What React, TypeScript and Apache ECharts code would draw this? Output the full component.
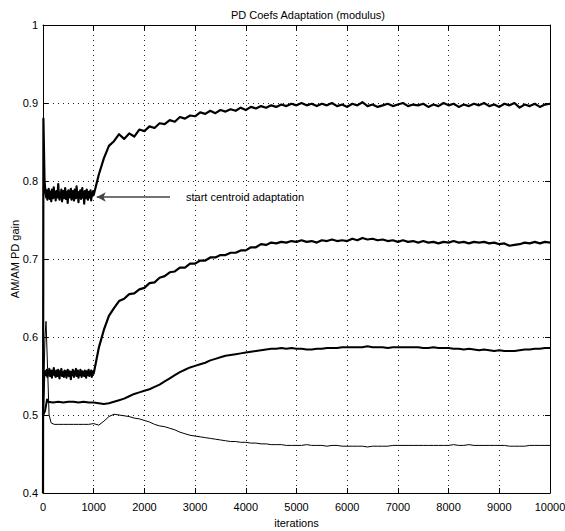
import React, { useEffect, useRef } from "react";
import * as echarts from "echarts";

// ---- axis settings ----
const X_MIN = 0;
const X_MAX = 10000;
const X_STEP = 1000;
const Y_MIN = 0.4;
const Y_MAX = 1;
const Y_STEP = 0.1;

const titleText = "PD Coefs Adaptation (modulus)";
const xName = "iterations";
const yName = "AM/AM PD gain";
const noteText = "start centroid adaptation";
const noteArrow = [2505, 1060, 0.7795]; // tail iter, tip iter, gain
const noteTextAt = [2820, 0.7795];

// ---- curve A (top) ----
const aStart = [[0, 0.4], [8, 0.88], [30, 0.8]];
// iterations 50..1000, step 12.5
const aEarly = [
  0.785, 0.779, 0.788, 0.776, 0.783, 0.79, 0.781, 0.777, 0.786, 0.774,
  0.789, 0.782, 0.778, 0.792, 0.78, 0.784, 0.775, 0.787, 0.781, 0.779,
  0.796, 0.783, 0.776, 0.785, 0.78, 0.789, 0.774, 0.782, 0.787, 0.778,
  0.784, 0.791, 0.777, 0.783, 0.786, 0.772, 0.788, 0.781, 0.779, 0.785,
  0.79, 0.776, 0.783, 0.787, 0.78, 0.775, 0.789, 0.782, 0.778, 0.793,
  0.781, 0.784, 0.773, 0.786, 0.78, 0.788, 0.777, 0.783, 0.791, 0.779,
  0.785, 0.771, 0.787, 0.782, 0.778, 0.789, 0.78, 0.776, 0.786, 0.783,
  0.779, 0.788, 0.775, 0.784, 0.781, 0.787, 0.782,
];
// iterations 1100..10000, step 100
const aLate = [
  0.808, 0.829, 0.845, 0.851, 0.86, 0.854, 0.861, 0.857, 0.866, 0.864,
  0.87, 0.868, 0.874, 0.873, 0.878, 0.876, 0.882, 0.88, 0.884, 0.883,
  0.888, 0.886, 0.89, 0.887, 0.891, 0.889, 0.892, 0.89, 0.894, 0.891,
  0.895, 0.893, 0.896, 0.894, 0.897, 0.895, 0.898, 0.896, 0.899, 0.897,
  0.9, 0.897, 0.899, 0.896, 0.899, 0.897, 0.9, 0.896, 0.898, 0.895,
  0.899, 0.897, 0.901, 0.896, 0.898, 0.895, 0.897, 0.899, 0.896, 0.898,
  0.9, 0.896, 0.898, 0.897, 0.899, 0.895, 0.898, 0.896, 0.9, 0.897,
  0.899, 0.895, 0.898, 0.896, 0.899, 0.897, 0.9, 0.896, 0.898, 0.895,
  0.899, 0.897, 0.9, 0.894, 0.898, 0.896, 0.899, 0.895, 0.898, 0.899,
];

// ---- curve B ----
const bStart = [[0, 0.5], [25, 0.556]];
// iterations 50..1000, step 12.5
const bEarly = [
  0.556, 0.551, 0.558, 0.549, 0.555, 0.553, 0.559, 0.55, 0.554, 0.557,
  0.548, 0.556, 0.552, 0.56, 0.551, 0.555, 0.549, 0.557, 0.553, 0.55,
  0.558, 0.554, 0.547, 0.556, 0.552, 0.559, 0.55, 0.555, 0.553, 0.549,
  0.557, 0.551, 0.556, 0.548, 0.554, 0.558, 0.552, 0.55, 0.556, 0.553,
  0.546, 0.555, 0.551, 0.558, 0.553, 0.549, 0.556, 0.552, 0.559, 0.55,
  0.554, 0.557, 0.548, 0.555, 0.551, 0.558, 0.553, 0.549, 0.556, 0.552,
  0.555, 0.55, 0.557, 0.553, 0.548, 0.556, 0.551, 0.554, 0.558, 0.55,
  0.555, 0.552, 0.557, 0.549, 0.554, 0.556, 0.553,
];
// iterations 1100..10000, step 100
const bLate = [
  0.586, 0.609, 0.627, 0.637, 0.646, 0.649, 0.655, 0.656, 0.661, 0.663,
  0.669, 0.67, 0.676, 0.678, 0.683, 0.684, 0.689, 0.689, 0.694, 0.694,
  0.698, 0.698, 0.702, 0.702, 0.705, 0.705, 0.708, 0.708, 0.711, 0.711,
  0.715, 0.715, 0.719, 0.718, 0.721, 0.72, 0.722, 0.721, 0.723, 0.722,
  0.724, 0.722, 0.723, 0.721, 0.724, 0.723, 0.725, 0.723, 0.724, 0.723,
  0.726, 0.724, 0.727, 0.725, 0.726, 0.724, 0.725, 0.723, 0.724, 0.722,
  0.724, 0.722, 0.723, 0.721, 0.723, 0.721, 0.722, 0.72, 0.722, 0.721,
  0.723, 0.721, 0.722, 0.72, 0.722, 0.721, 0.722, 0.72, 0.721, 0.719,
  0.72, 0.717, 0.718, 0.719, 0.721, 0.72, 0.722, 0.72, 0.722, 0.721,
];

// ---- curve C ----
const cStart = [[0, 0.5], [40, 0.505], [80, 0.52]];
// iterations 100..10000, step 100
const cLate = [
  0.517, 0.516, 0.517, 0.516, 0.517, 0.517, 0.516, 0.517, 0.516, 0.516,
  0.515, 0.514, 0.515, 0.517, 0.519, 0.521, 0.524, 0.527, 0.529, 0.531,
  0.533, 0.536, 0.539, 0.543, 0.547, 0.551, 0.555, 0.558, 0.561, 0.563,
  0.565, 0.567, 0.57, 0.572, 0.574, 0.576, 0.577, 0.578, 0.579, 0.58,
  0.581, 0.582, 0.583, 0.584, 0.585, 0.585, 0.586, 0.585, 0.586, 0.585,
  0.585, 0.584, 0.584, 0.585, 0.585, 0.586, 0.586, 0.586, 0.587, 0.587,
  0.587, 0.587, 0.587, 0.588, 0.587, 0.587, 0.587, 0.586, 0.587, 0.587,
  0.587, 0.587, 0.587, 0.587, 0.586, 0.586, 0.587, 0.586, 0.586, 0.586,
  0.585, 0.585, 0.584, 0.585, 0.584, 0.583, 0.584, 0.583, 0.582, 0.583,
  0.582, 0.582, 0.582, 0.583, 0.584, 0.584, 0.585, 0.585, 0.586, 0.586,
];

// ---- curve D (bottom, thin) ----
const dStart = [[0, 0.5], [40, 0.6], [60, 0.62], [90, 0.56], [120, 0.5], [160, 0.49], [220, 0.488]];
// iterations 300..10000, step 100
const dLate = [
  0.488, 0.488, 0.488, 0.488, 0.488, 0.488, 0.488,
  0.489, 0.487, 0.492, 0.498, 0.501, 0.5, 0.499, 0.498, 0.496, 0.495,
  0.493, 0.491, 0.488, 0.486, 0.485, 0.483, 0.481, 0.478, 0.476, 0.474,
  0.473, 0.472, 0.471, 0.47, 0.469, 0.468, 0.467, 0.466, 0.466, 0.465,
  0.465, 0.464, 0.464, 0.463, 0.463, 0.462, 0.462, 0.462, 0.461, 0.461,
  0.461,
  0.461, 0.462, 0.461, 0.461, 0.461, 0.46, 0.461, 0.461, 0.46, 0.46,
  0.46, 0.46, 0.46, 0.459, 0.46, 0.46, 0.46, 0.46, 0.461, 0.461,
  0.461, 0.461, 0.461, 0.461, 0.461, 0.461, 0.461, 0.461, 0.461, 0.461,
  0.462, 0.461, 0.461, 0.462, 0.461, 0.461, 0.461, 0.461, 0.461, 0.461,
  0.461, 0.46, 0.46, 0.46, 0.46, 0.461, 0.461, 0.461, 0.461, 0.461,
];

function build(
  start: number[][],
  early: number[],
  earlyFrom: number,
  earlyStep: number,
  late: number[],
  lateFrom: number,
  lateStep: number
) {
  const pts: number[][] = start.map((p) => [p[0], p[1]]);
  early.forEach((v, i) => pts.push([earlyFrom + i * earlyStep, v]));
  late.forEach((v, i) => pts.push([lateFrom + i * lateStep, v]));
  return pts;
}

const FONT = "Liberation Sans, Arial, Helvetica, sans-serif";

export default function App() {
  const ref = useRef<HTMLDivElement>(null);
  useEffect(() => {
    if (!ref.current) return;
    const chart = echarts.init(ref.current, undefined, { renderer: "svg" });

    const seriesA = build(aStart, aEarly, 50, 12.5, aLate, 1100, 100);
    const seriesB = build(bStart, bEarly, 50, 12.5, bLate, 1100, 100);
    const seriesC = build(cStart, [], 0, 0, cLate, 100, 100);
    const seriesD = build(dStart, [], 0, 0, dLate, 300, 100);

    const axisLine = { show: true, onZero: false, lineStyle: { color: "#000", width: 1 } };
    const tick = { show: true, inside: true, length: 5, lineStyle: { color: "#000", width: 1 } };
    const split = { show: true, lineStyle: { color: "#222", width: 1, type: [1, 4] as any } };
    const lbl = { color: "#000", fontSize: 11, fontFamily: FONT };

    const line = (data: number[][], width: number, extra: any = {}) => ({
      type: "line",
      data,
      showSymbol: false,
      symbol: "none",
      clip: true,
      lineStyle: { color: "#000", width, join: "round" },
      emphasis: { disabled: true },
      ...extra,
    });

    chart.setOption({
      animation: false,
      title: {
        text: titleText,
        left: 303,
        top: 4,
        textAlign: "center",
        textStyle: { fontSize: 11, fontWeight: "normal", color: "#000", fontFamily: FONT },
      },
      grid: { left: 43, right: 15, top: 25, bottom: 38, containLabel: false, outerBoundsMode: "none" },
      xAxis: [
        {
          type: "value",
          min: X_MIN,
          max: X_MAX,
          interval: X_STEP,
          position: "bottom",
          axisLine,
          axisTick: tick,
          splitLine: split,
          axisLabel: { ...lbl, margin: 8, formatter: (v: number) => String(v) },
          name: xName,
          nameLocation: "middle",
          nameGap: 24,
          nameMoveOverlap: false,
          nameTextStyle: { ...lbl },
        },
        {
          type: "value",
          min: X_MIN,
          max: X_MAX,
          interval: X_STEP,
          position: "top",
          axisLine,
          axisTick: tick,
          splitLine: { show: false },
          axisLabel: { show: false },
        },
      ],
      yAxis: [
        {
          type: "value",
          min: Y_MIN,
          max: Y_MAX,
          interval: Y_STEP,
          position: "left",
          axisLine,
          axisTick: tick,
          splitLine: split,
          axisLabel: { ...lbl, margin: 5, formatter: (v: number) => String(parseFloat(v.toFixed(2))) },
          name: yName,
          nameLocation: "middle",
          nameGap: 23,
          nameMoveOverlap: false,
          nameRotate: 90,
          nameTextStyle: { ...lbl },
        },
        {
          type: "value",
          min: Y_MIN,
          max: Y_MAX,
          interval: Y_STEP,
          position: "right",
          axisLine,
          axisTick: tick,
          splitLine: { show: false },
          axisLabel: { show: false },
        },
      ],
      series: [
        line(seriesD, 1),
        line(seriesC, 2),
        line(seriesB, 2.2),
        line(seriesA, 2.2, {
          markLine: {
            silent: true,
            symbol: ["none", "arrow"],
            symbolSize: [7, 9],
            label: { show: false },
            lineStyle: { color: "#444", width: 1.5, type: "solid" },
            data: [
              [
                { coord: [noteArrow[0], noteArrow[2]] },
                { coord: [noteArrow[1], noteArrow[2]] },
              ],
            ],
          },
        }),
      ],
    });

    const p = chart.convertToPixel({ gridIndex: 0 }, noteTextAt) as number[];
    chart.setOption({
      graphic: [
        {
          type: "text",
          x: p[0],
          y: p[1],
          style: {
            text: noteText,
            fill: "#000",
            font: `11px ${FONT}`,
            textVerticalAlign: "middle",
            verticalAlign: "middle",
          },
        },
      ],
    });

    return () => chart.dispose();
  }, []);

  return (
    <div
      ref={ref}
      style={{ position: "fixed", left: 0, top: 0, width: 565, height: 531, background: "#fff" }}
    />
  );
}
